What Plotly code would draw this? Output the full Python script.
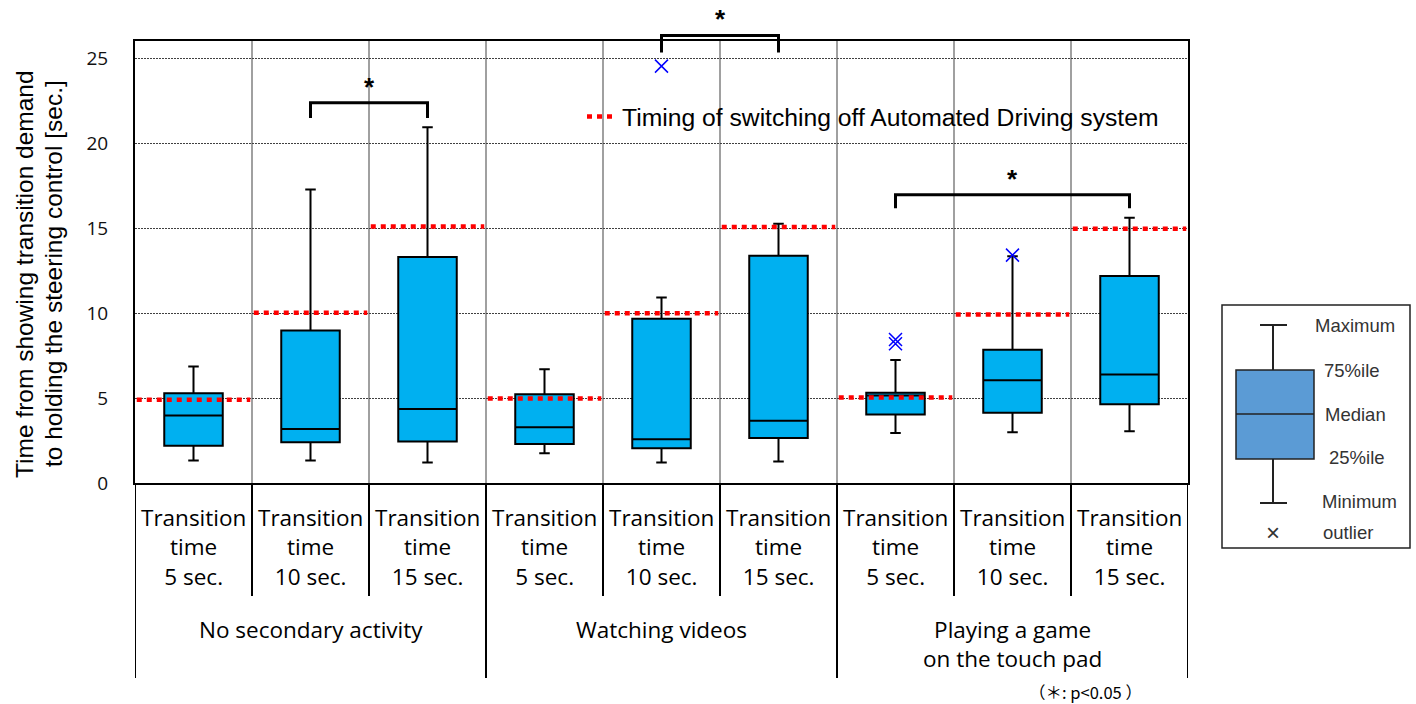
import plotly.graph_objects as go

# ---------------- data ----------------
cat_labels = ["Transition<br>time<br>5 sec.", "Transition<br>time<br>10 sec.", "Transition<br>time<br>15 sec."] * 3
group_labels = ["No secondary activity", "Watching videos", "Playing a game<br>on the touch pad"]

whisker_min = [1.32, 1.32, 1.20, 1.75, 1.20, 1.26, 2.95, 2.99, 3.05]
quart1 = [2.20, 2.40, 2.44, 2.30, 2.04, 2.65, 4.03, 4.13, 4.64]
medians = [3.97, 3.18, 4.36, 3.28, 2.57, 3.67, 5.15, 6.05, 6.39]
quart3 = [5.29, 8.98, 13.31, 5.23, 9.67, 13.38, 5.31, 7.84, 12.19]
whisker_max = [6.86, 17.28, 20.95, 6.70, 10.93, 15.27, 7.25, 13.35, 15.62]
switch_off = [4.91, 10.02, 15.11, 4.98, 10.00, 15.08, 5.03, 9.93, 14.98]

outlier_cat = [4, 6, 6, 7]
outlier_val = [24.55, 8.20, 8.45, 13.42]

sig_pairs = [(1, 2), (4, 5), (6, 8)]
sig_top = [22.40, 26.36, 16.98]
sig_drop = [0.9, 1.0, 0.8]

y_ticks = [0, 5, 10, 15, 20, 25]
y_title = ["Time from showing transition demand", "to holding the steering control [sec.]"]
YMAX = 26.03

# ---------------- figure ----------------
W, H = 1416, 704
L, R, T, B = 135, 228, 41, 221
PW, PH = W - L - R, H - T - B

def px(x):  # window pixel -> paper x
    return (x - L) / PW

def py(y):  # window pixel -> paper y
    return (H - B - y) / PH

xc = [i + 0.5 for i in range(9)]

fig = go.Figure()

fig.add_trace(go.Box(
    x=xc, q1=quart1, median=medians, q3=quart3,
    lowerfence=whisker_min, upperfence=whisker_max,
    width=0.5, whiskerwidth=0.18, boxpoints=False,
    fillcolor="#00B0F0", line=dict(color="#000000", width=2),
    showlegend=False, hoverinfo="skip"))

# red timing lines
rx, ry = [], []
for i, v in enumerate(switch_off):
    rx += [i + 0.015, i + 0.985, None]
    ry += [v, v, None]
fig.add_trace(go.Scatter(
    x=rx, y=ry, mode="lines", connectgaps=False,
    line=dict(color="#FF0000", width=4.5, dash="5px,5px"),
    name="Timing of switching off Automated Driving system",
    showlegend=True, hoverinfo="skip"))

# outliers
fig.add_trace(go.Scatter(
    x=[c + 0.5 for c in outlier_cat], y=outlier_val,
    mode="markers", cliponaxis=False,
    marker=dict(symbol="x-thin-open", size=13, color="#0000FF",
                line=dict(color="#0000FF", width=1.5)),
    showlegend=False, hoverinfo="skip"))

shapes = []
annotations = []

# significance brackets
for (a, b), top, drop in zip(sig_pairs, sig_top, sig_drop):
    xa, xb = a + 0.5, b + 0.5
    yt, ye = top / YMAX, (top - drop) / YMAX
    shapes.append(dict(type="path", xref="x", yref="paper",
                       path=f"M {xa},{ye} L {xa},{yt} L {xb},{yt} L {xb},{ye}",
                       line=dict(color="black", width=3)))
    annotations.append(dict(x=(xa + xb) / 2, y=(top + 0.95) / YMAX, xref="x", yref="paper",
                            text="<b>*</b>", showarrow=False, yanchor="middle",
                            font=dict(family="Liberation Sans", size=26, color="black")))

# separators below the axis
for i in range(10):
    depth = -0.441 if i % 3 == 0 else -0.2557
    shapes.append(dict(type="line", xref="x", yref="paper", x0=i, x1=i, y0=0, y1=depth,
                       line=dict(color="black", width=2)))

# category labels
for i, lab in enumerate(cat_labels):
    annotations.append(dict(x=i + 0.5, y=py(547), xref="x", yref="paper", text=lab,
                            showarrow=False, yanchor="middle",
                            font=dict(family="Open Sans", size=22.5, color="black")))
# group labels
for g, lab in enumerate(group_labels):
    annotations.append(dict(x=g * 3 + 1.5, y=py(612), xref="x", yref="paper", text=lab,
                            showarrow=False, yanchor="top",
                            font=dict(family="Open Sans", size=22.5, color="black")))

# y-axis title (two lines)
for line_txt, lx in zip(y_title, [24, 53]):
    annotations.append(dict(x=px(lx), y=py(274), xref="paper", yref="paper",
                            text=line_txt, textangle=-90, showarrow=False,
                            xanchor="center", yanchor="middle",
                            font=dict(family="Liberation Sans", size=24.5, color="black")))

# footnote
annotations.append(dict(x=px(1085), y=py(692), xref="paper", yref="paper",
                        text="（＊: p&lt;0.05 ）", showarrow=False, xanchor="center", yanchor="middle",
                        font=dict(family="Noto Sans CJK JP", size=16.5, color="black")))

# box-plot key on the right
shapes.append(dict(type="rect", xref="paper", yref="paper", x0=px(1222), x1=px(1410),
                   y0=py(548), y1=py(305), line=dict(color="#222", width=1.5), fillcolor="white"))
shapes.append(dict(type="line", xref="paper", yref="paper", x0=px(1273), x1=px(1273),
                   y0=py(325), y1=py(503), line=dict(color="#222", width=2)))
for yy in (325, 503):
    shapes.append(dict(type="line", xref="paper", yref="paper", x0=px(1260), x1=px(1287),
                       y0=py(yy), y1=py(yy), line=dict(color="#222", width=2)))
shapes.append(dict(type="rect", xref="paper", yref="paper", x0=px(1236), x1=px(1314),
                   y0=py(459), y1=py(370), line=dict(color="#222", width=1.5), fillcolor="#5B9BD5"))
shapes.append(dict(type="line", xref="paper", yref="paper", x0=px(1236), x1=px(1314),
                   y0=py(414), y1=py(414), line=dict(color="#222", width=1.5)))
key_items = [("Maximum", 1313, 325), ("75%ile", 1322, 370), ("Median", 1323, 414),
             ("25%ile", 1327, 457), ("Minimum", 1320, 501), ("outlier", 1321, 532)]
for txt, kx, ky in key_items:
    annotations.append(dict(x=px(kx), y=py(ky), xref="paper", yref="paper", text=txt,
                            showarrow=False, xanchor="left", yanchor="middle",
                            font=dict(family="Liberation Sans", size=18.5, color="#333")))
annotations.append(dict(x=px(1273), y=py(532), xref="paper", yref="paper", text="×",
                        showarrow=False, xanchor="center", yanchor="middle",
                        font=dict(family="Liberation Sans", size=24, color="#333")))

fig.update_layout(
    width=W, height=H,
    margin=dict(l=L, r=R, t=T, b=B),
    paper_bgcolor="white", plot_bgcolor="white",
    shapes=shapes, annotations=annotations,
    showlegend=True,
    legend=dict(x=px(582), y=py(94), xanchor="left", yanchor="top",
                bgcolor="rgba(0,0,0,0)",
                font=dict(family="Liberation Sans", size=24.7, color="black")),
    xaxis=dict(range=[0, 9], tickvals=list(range(1, 9)), showticklabels=False, ticks="",
               showgrid=True, gridcolor="#A0A0A0", gridwidth=2, zeroline=False,
               showline=True, mirror=True, linecolor="black", linewidth=2),
    yaxis=dict(range=[0, YMAX], tickvals=y_ticks, ticks="", ticklabelstandoff=21,
               tickfont=dict(family="Open Sans", size=19, color="#111"),
               showgrid=True, gridcolor="#404040", gridwidth=1, griddash="2px,1px",
               zeroline=False, showline=True, mirror=True, linecolor="black", linewidth=2),
)

# remove the default 8px page margin so the figure fills the window exactly
fig.write_html("out.html", config={"displayModeBar": False},
               post_script="document.body.style.margin='0px';")
